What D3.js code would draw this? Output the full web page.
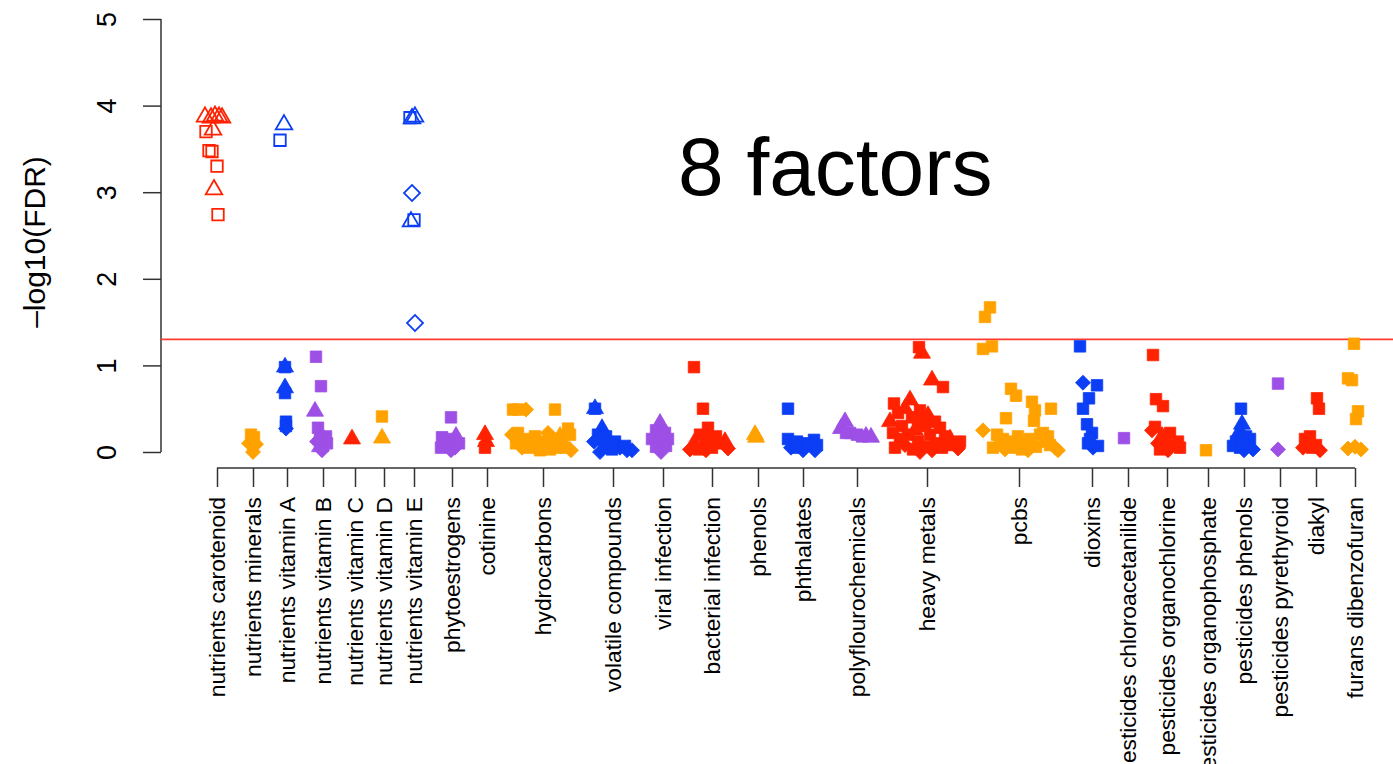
<!DOCTYPE html>
<html>
<head>
<meta charset="utf-8">
<script src="https://cdn.jsdelivr.net/npm/d3@7"></script>
<style>
  html, body { margin: 0; padding: 0; background: #fff; }
  svg { display: block; }
  text { font-family: "Liberation Sans", Arial, Helvetica, sans-serif; fill: #000; }
</style>
</head>
<body>
<svg id="chart" width="1393" height="764"></svg>
<script>
// Exposure classes, in plotting order, and the variable index at which each class label sits
const categories = [
  "nutrients carotenoid", "nutrients minerals", "nutrients vitamin A", "nutrients vitamin B",
  "nutrients vitamin C", "nutrients vitamin D", "nutrients vitamin E", "phytoestrogens",
  "cotinine", "hydrocarbons", "volatile compounds", "viral infection", "bacterial infection",
  "phenols", "phthalates", "polyflourochemicals", "heavy metals", "pcbs", "dioxins",
  "pesticides chloroacetanilide", "pesticides organochlorine", "pesticides organophosphate",
  "pesticides phenols", "pesticides pyrethyroid", "diakyl", "furans dibenzofuran"
];
const categoryIndex = [
  28, 46, 63, 81, 97, 111.5, 126.5, 145.5, 163, 191, 226, 251, 275.5,
  298.5, 321, 348, 383, 429, 465.5, 483.5, 503, 523.5, 541.5, 559.5, 577.5, 597
];
const yTicks = [0, 1, 2, 3, 4, 5];
const fdrCutoff = 0.05;

// Class colours cycle in this order
const palette = ["#ff2200", "#ffa200", "#0b3ef5", "#9d4fe6"];

// Per-class exposures: [variable index, -log10(FDR), marker]
// marker: s/t/d = open square/triangle/diamond, S/T/D = filled
const carotenoid = [
  [22, 3.87, "t"], [25, 3.86, "t"], [27, 3.88, "t"], [29, 3.87, "t"], [30.5, 3.86, "t"],
  [22.5, 3.70, "s"], [26, 3.72, "t"], [24, 3.48, "s"], [25.5, 3.47, "s"],
  [28, 3.30, "s"], [26.5, 3.03, "t"], [28.5, 2.74, "s"]
];
const minerals = [[45, 0.20, "S"], [46.5, 0.17, "S"], [44, 0.10, "D"], [47.5, 0.09, "D"], [46, 0.0, "D"]];
const vitaminA = [
  [61.5, 3.78, "t"], [59.5, 3.60, "s"], [62, 0.98, "S"], [62, 0.98, "T"],
  [62, 0.74, "T"], [62, 0.68, "S"], [62.5, 0.35, "S"], [62.5, 0.30, "S"], [62.5, 0.27, "D"]
];
const vitaminB = [
  [77.5, 1.10, "S"], [80, 0.76, "S"], [77, 0.47, "T"], [78.5, 0.28, "S"], [80, 0.20, "T"],
  [82.5, 0.18, "S"], [78, 0.12, "D"], [83, 0.10, "S"], [79.5, 0.06, "T"], [80.5, 0.02, "D"], [79.5, 0.15, "S"]
];
const vitaminC = [[95.5, 0.15, "T"]];
const vitaminD = [[110.5, 0.41, "S"], [110.5, 0.16, "T"]];
const vitaminE = [
  [124.5, 3.86, "s"], [127, 3.87, "t"], [125.5, 3.85, "t"], [125.5, 2.99, "d"],
  [126.5, 2.68, "s"], [125, 2.66, "t"], [127, 1.49, "d"]
];
const phytoestrogens = [
  [145, 0.40, "S"], [140.5, 0.17, "S"], [145.5, 0.15, "S"], [142.5, 0.12, "D"], [147.5, 0.18, "T"],
  [144, 0.08, "S"], [147, 0.05, "D"], [140, 0.05, "S"], [149, 0.10, "S"], [145, 0.02, "D"]
];
const cotinine = [[162, 0.20, "T"], [162.5, 0.12, "T"], [162, 0.05, "S"]];
const hydrocarbons = [
  [176, 0.49, "S"], [178.5, 0.49, "S"], [182.5, 0.49, "D"], [197, 0.49, "S"],
  [175.5, 0.20, "D"], [178.5, 0.22, "S"], [181.5, 0.15, "S"], [177.5, 0.10, "S"], [180.5, 0.05, "D"],
  [184.5, 0.05, "S"], [187, 0.18, "S"], [189.5, 0.12, "S"], [193.5, 0.22, "D"], [192, 0.08, "S"],
  [194.5, 0.03, "S"], [197, 0.15, "S"], [199.5, 0.18, "T"], [200.5, 0.10, "S"], [203.5, 0.27, "S"],
  [204.5, 0.20, "S"], [202, 0.05, "S"], [205, 0.02, "D"], [183.5, 0.12, "S"], [189.5, 0.02, "S"], [197.5, 0.05, "S"]
];
const volatileCompounds = [
  [217, 0.50, "S"], [217, 0.50, "T"], [220.5, 0.27, "T"], [218.5, 0.20, "S"], [222.5, 0.18, "S"],
  [216.5, 0.12, "D"], [224.5, 0.10, "S"], [227, 0.12, "S"], [229.5, 0.05, "D"], [221.5, 0.05, "S"],
  [233, 0.02, "D"], [235.5, 0.02, "D"], [232, 0.07, "S"], [219.5, 0.0, "D"], [225.5, 0.03, "S"]
];
const viralInfection = [
  [249.5, 0.33, "T"], [247.5, 0.25, "S"], [252, 0.22, "S"], [245.5, 0.15, "S"], [253.5, 0.15, "S"],
  [249.5, 0.10, "D"], [247.5, 0.06, "S"], [252.5, 0.07, "S"], [250, 0.0, "D"], [249.5, 0.18, "S"]
];
const bacterialInfection = [
  [266.5, 0.98, "S"], [271, 0.50, "S"], [273.5, 0.28, "S"], [269.5, 0.20, "S"], [277.5, 0.18, "S"],
  [266.5, 0.10, "T"], [272, 0.12, "S"], [279.5, 0.10, "S"], [264.5, 0.03, "D"], [283.5, 0.04, "D"],
  [275.5, 0.05, "S"], [269, 0.03, "S"], [282, 0.12, "T"], [273.5, 0.18, "S"], [272.5, 0.02, "D"]
];
const phenols = [[297, 0.20, "T"], [297.5, 0.17, "T"]];
const phthalates = [
  [313.5, 0.50, "S"], [313.5, 0.15, "S"], [318, 0.12, "S"], [326.5, 0.14, "S"], [315, 0.05, "D"],
  [321, 0.02, "D"], [328, 0.08, "S"], [327, 0.02, "D"], [322, 0.10, "S"], [317.5, 0.05, "S"]
];
const polyflourochemicals = [
  [342, 0.35, "T"], [340, 0.27, "T"], [344.5, 0.22, "S"], [348, 0.20, "S"], [352.5, 0.18, "T"],
  [350.5, 0.18, "S"], [355, 0.17, "T"], [342.5, 0.22, "S"]
];
const heavyMetals = [
  [379, 1.21, "S"], [380.5, 1.14, "T"], [385.5, 0.83, "T"], [391, 0.75, "S"],
  [366.5, 0.56, "S"], [374.5, 0.60, "T"], [372, 0.50, "T"], [379.5, 0.48, "S"], [368.5, 0.45, "S"],
  [383.5, 0.42, "T"], [375.5, 0.40, "S"], [387, 0.35, "S"], [364.5, 0.35, "T"], [370.5, 0.30, "S"],
  [382, 0.30, "S"], [389.5, 0.28, "S"], [377, 0.25, "T"], [366, 0.22, "S"], [373.5, 0.20, "S"],
  [384.5, 0.20, "S"], [392, 0.18, "S"], [394.5, 0.15, "T"], [369.5, 0.15, "S"], [378.5, 0.12, "S"],
  [387.5, 0.10, "S"], [397, 0.10, "S"], [372, 0.08, "D"], [382, 0.06, "S"], [390.5, 0.05, "S"],
  [398.5, 0.04, "D"], [376, 0.03, "S"], [385.5, 0.02, "D"], [399.5, 0.12, "S"], [393.5, 0.08, "S"],
  [379.5, 0.0, "D"], [367, 0.05, "S"], [379.5, 0.30, "T"], [378.5, 0.38, "S"]
];
const pcbs = [
  [414.5, 1.67, "S"], [412, 1.56, "S"], [415.5, 1.22, "S"], [411, 1.19, "S"],
  [425, 0.73, "S"], [427.5, 0.65, "S"], [435.5, 0.58, "S"], [437, 0.48, "S"], [445, 0.50, "S"],
  [422.5, 0.39, "S"], [436.5, 0.36, "S"], [411, 0.25, "D"],
  [418, 0.20, "S"], [421, 0.15, "S"], [424.5, 0.12, "S"], [428.5, 0.18, "S"], [432, 0.10, "S"],
  [434.5, 0.15, "S"], [439.5, 0.20, "S"], [442, 0.12, "S"], [444.5, 0.08, "S"], [447, 0.05, "D"],
  [448.5, 0.02, "D"], [416, 0.05, "S"], [422, 0.03, "D"], [427, 0.05, "S"], [433.5, 0.02, "D"],
  [437.5, 0.06, "S"], [441, 0.22, "S"], [419.5, 0.10, "S"], [430.5, 0.03, "S"], [443.5, 0.18, "S"]
];
const dioxins = [
  [459.5, 1.22, "S"], [461, 0.80, "D"], [468, 0.77, "S"], [464, 0.62, "S"], [461, 0.50, "S"],
  [463, 0.32, "S"], [465.5, 0.22, "S"], [466, 0.05, "D"], [463.5, 0.10, "S"], [468.5, 0.07, "S"], [464.5, 0.15, "S"]
];
const chloroacetanilide = [[481.5, 0.16, "S"]];
const organochlorine = [
  [496, 1.12, "S"], [497.5, 0.61, "S"], [501, 0.53, "S"], [497, 0.29, "S"], [495.5, 0.25, "D"],
  [504.5, 0.22, "S"], [502, 0.15, "S"], [498.5, 0.10, "D"], [507.5, 0.08, "S"], [503.5, 0.02, "D"],
  [509.5, 0.05, "S"], [500.5, 0.18, "T"], [508.5, 0.12, "S"], [499.5, 0.03, "S"]
];
const organophosphate = [[522.5, 0.02, "S"]];
const pesticidePhenols = [
  [540, 0.50, "S"], [540.5, 0.32, "T"], [539.5, 0.24, "T"], [542.5, 0.18, "S"], [537.5, 0.12, "S"],
  [543.5, 0.08, "D"], [539.5, 0.05, "S"], [541.5, 0.02, "D"], [544.5, 0.15, "S"], [536, 0.07, "S"],
  [546, 0.03, "D"], [541, 0.10, "S"]
];
const pyrethyroid = [[558.5, 0.79, "S"], [558.5, 0.03, "D"]];
const diakyl = [
  [578, 0.62, "S"], [579, 0.50, "S"], [574.5, 0.18, "S"], [572, 0.15, "S"], [571, 0.05, "D"],
  [575.5, 0.05, "S"], [579.5, 0.02, "D"], [577.5, 0.08, "S"]
];
const furans = [
  [596.5, 1.25, "S"], [593.5, 0.85, "S"], [595.5, 0.83, "S"], [598.5, 0.47, "S"], [597.5, 0.38, "S"],
  [593.5, 0.04, "D"], [597, 0.06, "D"], [600, 0.03, "D"]
];

const exposureClasses = [
  carotenoid, minerals, vitaminA, vitaminB, vitaminC, vitaminD, vitaminE, phytoestrogens,
  cotinine, hydrocarbons, volatileCompounds, viralInfection, bacterialInfection, phenols,
  phthalates, polyflourochemicals, heavyMetals, pcbs, dioxins, chloroacetanilide,
  organochlorine, organophosphate, pesticidePhenols, pyrethyroid, diakyl, furans
];

const svg = d3.select("#chart");
const W = 1393;

const x = d3.scaleLinear().domain([0, 616]).range([161, 1393]);
const y = d3.scaleLinear().domain([0, 5]).range([452, 19]);
const axisColor = "#333";

// Marker geometry
const markers = {
  s: { type: d3.symbolSquare, size: 132, fill: false, rot: 0 },
  t: { type: d3.symbolTriangle, size: 118, fill: false, rot: 0 },
  d: { type: d3.symbolSquare, size: 128, fill: false, rot: 45 },
  S: { type: d3.symbolSquare, size: 132, fill: true, rot: 0 },
  T: { type: d3.symbolTriangle, size: 125, fill: true, rot: 0 },
  D: { type: d3.symbolSquare, size: 112, fill: true, rot: 45 }
};

// Y axis
const yAxis = svg.append("g")
  .attr("transform", `translate(${x(0)},0)`)
  .call(d3.axisLeft(y).tickValues(yTicks).tickSize(18).tickSizeOuter(0).tickFormat(d3.format("d")));
yAxis.select(".domain").remove();
yAxis.append("line")
  .attr("x1", 0).attr("x2", 0)
  .attr("y1", y(yTicks[0])).attr("y2", y(yTicks[yTicks.length - 1]))
  .attr("stroke", axisColor).attr("stroke-width", 1.5);
yAxis.selectAll(".tick line").attr("stroke", axisColor).attr("stroke-width", 1.5);
yAxis.selectAll(".tick text")
  .attr("x", 0).attr("dy", 0)
  .attr("transform", "translate(-45,0) rotate(-90)")
  .attr("text-anchor", "middle")
  .style("font-size", "27px")
  .attr("fill", "#000");

svg.append("text")
  .attr("transform", `translate(45,${242}) rotate(-90)`)
  .attr("text-anchor", "middle")
  .style("font-size", "30px")
  .text("\u2013log10(FDR)");

// X axis
const xAxisY = 468;
const xAxis = svg.append("g")
  .attr("transform", `translate(0,${xAxisY})`)
  .call(d3.axisBottom(x).tickValues(categoryIndex).tickSize(19).tickSizeOuter(0)
    .tickFormat((d, i) => categories[i]));
xAxis.select(".domain").remove();
xAxis.append("line")
  .attr("x1", x(categoryIndex[0])).attr("x2", x(categoryIndex[categoryIndex.length - 1]))
  .attr("y1", 0).attr("y2", 0)
  .attr("stroke", axisColor).attr("stroke-width", 1.5);
xAxis.selectAll(".tick line").attr("stroke", axisColor).attr("stroke-width", 1.5);
xAxis.selectAll(".tick text")
  .attr("x", 0).attr("y", 0).attr("dy", "0.35em")
  .attr("transform", "translate(0,29) rotate(-90)")
  .attr("text-anchor", "end")
  .style("font-size", "22.8px")
  .attr("fill", "#000");

// Significance threshold
svg.append("line")
  .attr("x1", x(0)).attr("x2", W)
  .attr("y1", y(-Math.log10(fdrCutoff))).attr("y2", y(-Math.log10(fdrCutoff)))
  .attr("stroke", "#ff3b30").attr("stroke-width", 1.6);

// Exposure markers
const pts = svg.append("g");
exposureClasses.forEach((rows, ci) => {
  const col = palette[ci % palette.length];
  rows.forEach(([idx, v, m]) => {
    const mk = markers[m];
    pts.append("path")
      .attr("d", d3.symbol().type(mk.type).size(mk.size)())
      .attr("transform", `translate(${x(idx)},${y(v)}) rotate(${mk.rot})`)
      .attr("fill", mk.fill ? col : "none")
      .attr("stroke", col)
      .attr("stroke-width", mk.fill ? 0.8 : 1.8);
  });
});

// Annotation
svg.append("text")
  .attr("x", 678).attr("y", 195)
  .style("font-size", "82px")
  .text("8 factors");
</script>
</body>
</html>
